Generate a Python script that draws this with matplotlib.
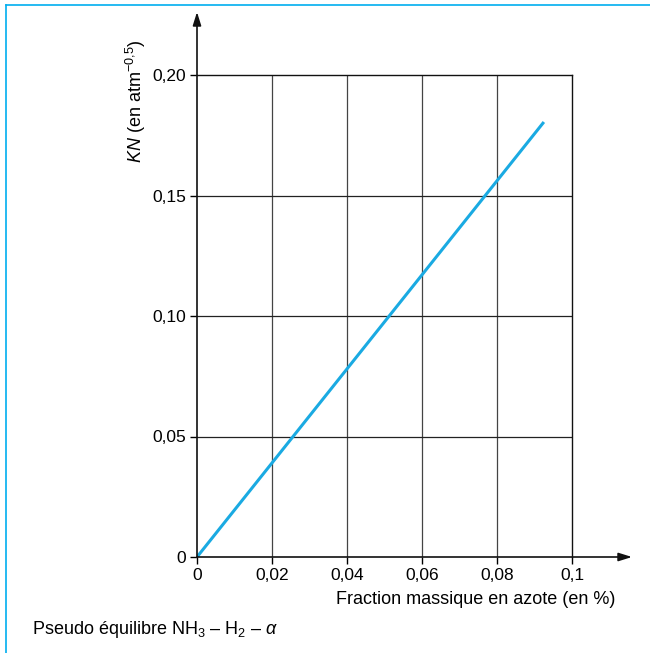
import matplotlib
matplotlib.use("Agg")
import matplotlib.pyplot as plt
from matplotlib.lines import Line2D

plt.rcParams['font.family'] = ['Liberation Sans', 'DejaVu Sans']
plt.rcParams['mathtext.fontset'] = 'custom'
plt.rcParams['mathtext.rm'] = 'Liberation Sans'
plt.rcParams['mathtext.it'] = 'Liberation Sans:italic'

# KN en fonction de la fraction massique d'azote
azote = [0.0, 0.0925]
kn = [0.0, 0.1805]

xticks = [0, 0.02, 0.04, 0.06, 0.08, 0.1]
xlabels = ['0', '0,02', '0,04', '0,06', '0,08', '0,1']
yticks = [0, 0.05, 0.10, 0.15, 0.20]
ylabels = ['0', '0,05', '0,10', '0,15', '0,20']

bleu = '#1aaae2'

fig = plt.figure(figsize=(6.5, 6.53), dpi=100)
ax = fig.add_axes([197 / 650, 1 - 557 / 653, 375 / 650, 482 / 653])

ax.plot(azote, kn, color=bleu, lw=2.2, solid_capstyle='butt')

ax.set_xlim(0, 0.1)
ax.set_ylim(0, 0.2)
ax.set_xticks(xticks)
ax.set_xticklabels(xlabels)
ax.set_yticks(yticks)
ax.set_yticklabels(ylabels)
ax.tick_params(direction='out', length=5, width=1, labelsize=12.5, pad=3)

for x in xticks[1:-1]:
    ax.axvline(x, color='#444444', lw=0.9, zorder=0)
for y in yticks[1:-1]:
    ax.axhline(y, color='#222222', lw=0.9, zorder=0)

for s in ax.spines.values():
    s.set_linewidth(1.0)
    s.set_color('#111111')
ax.spines['left'].set_visible(False)
ax.spines['bottom'].set_visible(False)

# axes avec flèches
fleche = dict(arrowstyle='-|>,head_length=0.8,head_width=0.25',
              color='#111111', lw=1.2, shrinkA=0, shrinkB=0)
ax.annotate('', xy=(197 / 650, 1 - 12 / 653), xytext=(197 / 650, 1 - 557 / 653),
            xycoords='figure fraction', textcoords='figure fraction',
            arrowprops=fleche)
ax.annotate('', xy=(632 / 650, 1 - 557 / 653), xytext=(197 / 650, 1 - 557 / 653),
            xycoords='figure fraction', textcoords='figure fraction',
            arrowprops=fleche)

fig.text(136 / 650, 1 - 101 / 653, r'$KN$ (en atm$^{-0{,}5}$)', rotation=90,
         ha='center', va='center', fontsize=13)
fig.text(615 / 650, 1 - 600 / 653, 'Fraction massique en azote (en %)',
         ha='right', va='center', fontsize=13)
fig.text(32 / 650, 1 - 629 / 653, r'Pseudo équilibre NH$_3$ – H$_2$ – $\alpha$',
         ha='left', va='center', fontsize=13)

# cadre
fig.add_artist(Line2D([6 / 650, 1], [1 - 5 / 653, 1 - 5 / 653],
                      transform=fig.transFigure, color='#00aeef', lw=1.2))
fig.add_artist(Line2D([6 / 650, 6 / 650], [1 - 5 / 653, 0],
                      transform=fig.transFigure, color='#00aeef', lw=1.2))

fig.savefig('out.png', dpi=100)
